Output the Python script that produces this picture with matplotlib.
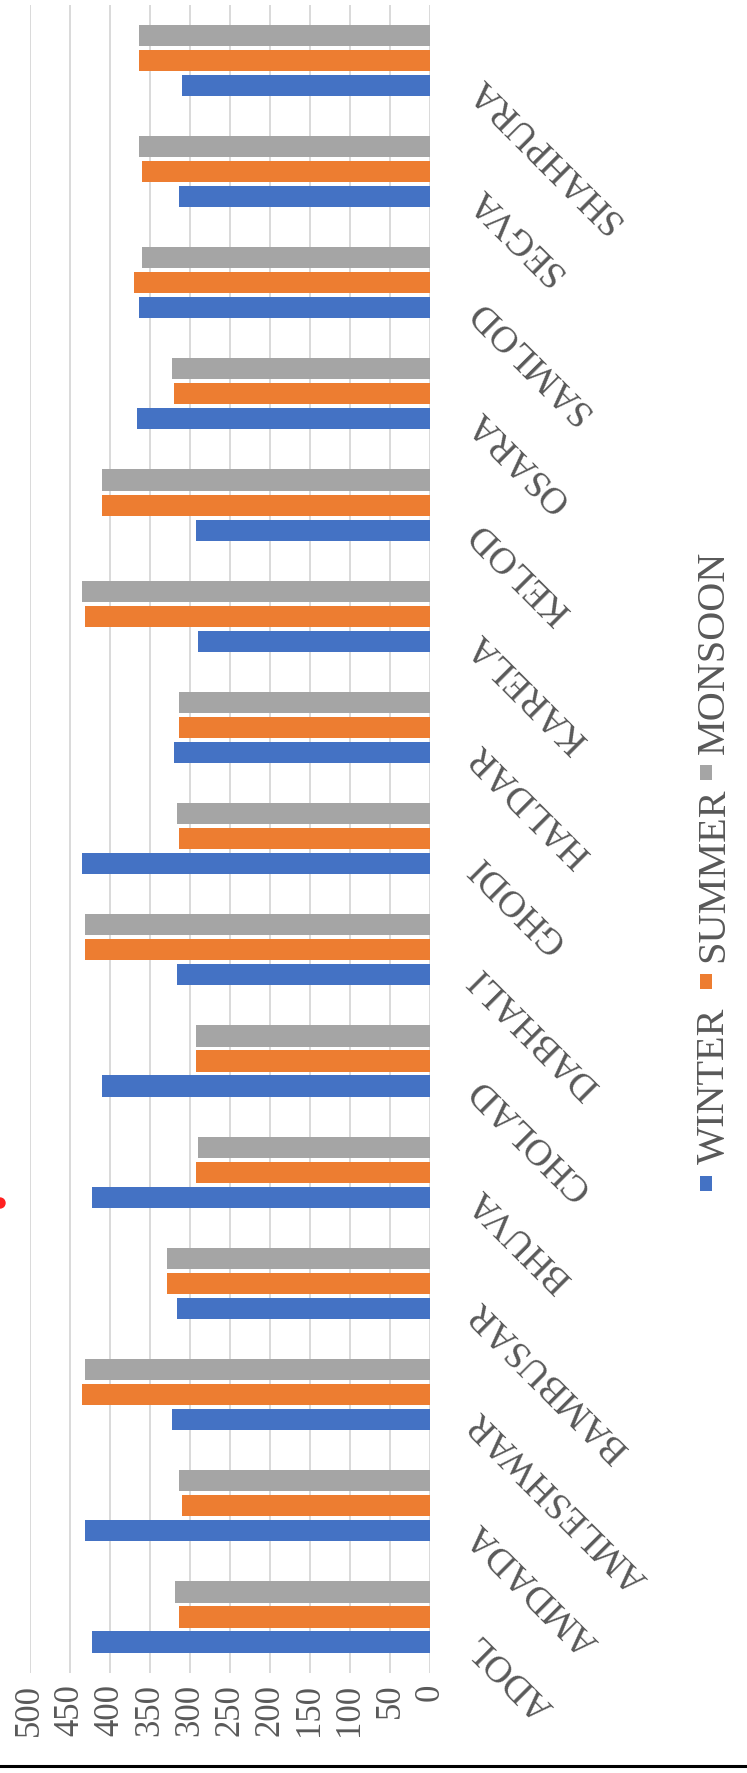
import numpy as np
import matplotlib
matplotlib.use('Agg')
import matplotlib.pyplot as plt
import matplotlib.transforms as mtransforms
from matplotlib.patches import Rectangle, Circle
from matplotlib.lines import Line2D

plt.rcParams['font.family'] = ['Liberation Serif', 'DejaVu Serif']

# Villages (bottom to top) and seasonal values
villages = ['ADOL', 'AMDADA', 'AMLESHWAR', 'BAMBUSAR', 'BHUVA', 'CHOLAD', 'DABHALI',
            'GHODI', 'HALDAR', 'KARELA', 'KELOD', 'OSARA', 'SAMLOD', 'SEGVA', 'SHAHPURA']
winter = [422, 431, 322, 316, 422, 410, 316, 434, 319, 290, 292, 366, 363, 313, 310]
summer = [313, 310, 434, 328, 292, 292, 431, 313, 313, 431, 410, 319, 369, 360, 363]
monsoon = [318, 313, 431, 328, 290, 292, 431, 316, 313, 434, 410, 322, 360, 363, 363]
seasons = ['WINTER', 'SUMMER', 'MONSOON']
colors = ['#4472C4', '#ED7D31', '#A5A5A5']
ticks = list(range(0, 501, 50))

W, H = 747, 1773
fig = plt.figure(figsize=(W / 100, H / 100), dpi=100)
ax = fig.add_axes([29.5 / W, (H - 1672.6) / H, 400.5 / W, (1672.6 - 4.7) / H])

y = np.arange(len(villages))
step = 0.225
bh = 0.19
for k, (vals, c) in enumerate(zip([winter, summer, monsoon], colors)):
    ax.barh(y + (k - 1) * step, vals, height=bh, color=c, zorder=3)

ax.set_xlim(500, 0)
ax.set_ylim(-0.5, len(villages) - 0.5)
ax.set_xticks(ticks)
ax.set_xticklabels([str(t) for t in ticks], rotation=90, va='top', ha='center',
                   fontsize=25, color='#595959')
ax.tick_params(axis='x', length=0, pad=8)
ax.set_yticks([])
ax.grid(axis='x', color='#D9D9D9', linewidth=1.4, zorder=0)
for s in ax.spines.values():
    s.set_visible(False)

# village names, slanted next to the zero line
for i, name in enumerate(villages):
    tr = mtransforms.offset_copy(ax.transData, fig=fig, x=44, y=-22, units='dots')
    ax.text(0, i, name, transform=tr, rotation=135, rotation_mode='anchor',
            ha='right', va='center', fontsize=27, color='#595959')

# legend, stacked vertically on the right
marker_y = [1183, 981, 772]
text_y = [1164, 962, 754]
for name, c, my, ty in zip(seasons, colors, marker_y, text_y):
    fig.add_artist(Rectangle((700, H - my - 7.5), 12, 15, transform=None,
                             facecolor=c, edgecolor='none'))
    fig.text(714 / W, (H - ty) / H, name, rotation=90, ha='center', va='bottom',
             fontsize=29, color='#595959')

fig.add_artist(Circle((0, H - 1203), 5, transform=None, color='#FF2020'))
fig.add_artist(Line2D([0, 1], [(H - 1766) / H] * 2, transform=fig.transFigure,
                      color='black', linewidth=2.2))

fig.savefig('out.png', dpi=100)
